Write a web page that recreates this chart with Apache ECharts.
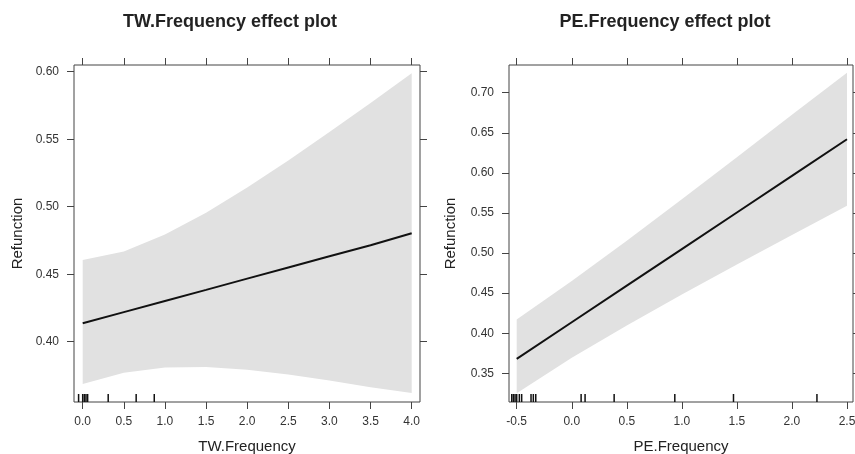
<!DOCTYPE html>
<html>
<head>
<meta charset="utf-8">
<script src="https://cdn.jsdelivr.net/npm/echarts@6/dist/echarts.min.js"></script>
<style>
html,body{margin:0;padding:0;background:#fff;}
#chart{width:855px;height:454px;}
</style>
</head>
<body>
<div id="chart"></div>
<script>
// ---- data ----
const titles = ['TW.Frequency effect plot', 'PE.Frequency effect plot'];
const xNames = ['TW.Frequency', 'PE.Frequency'];
const yName = 'Refunction';

// TW.Frequency panel
const twX     = [0, 0.5, 1, 1.5, 2, 2.5, 3, 3.5, 4];
const twFit   = [0.4136, 0.4219, 0.4302, 0.4384, 0.4467, 0.4550, 0.4633, 0.4715, 0.4803];
const twUpper = [0.4605, 0.4669, 0.4794, 0.4956, 0.5142, 0.5343, 0.5553, 0.5768, 0.5988];
const twLower = [0.3687, 0.3769, 0.3809, 0.3812, 0.3792, 0.3757, 0.3713, 0.3662, 0.3620];
const twRug   = [-0.05, 0.0, 0.02, 0.04, 0.06, 0.31, 0.65, 0.87];
const twXTicks = [0, 0.5, 1, 1.5, 2, 2.5, 3, 3.5, 4];
const twYTicks = [0.40, 0.45, 0.50, 0.55, 0.60];
const twXRange = [-0.1058, 4.101];
const twYRange = [0.3553, 0.605];

// PE.Frequency panel
const peX     = [-0.5, 0, 0.5, 1, 1.5, 2, 2.5];
const peFit   = [0.368, 0.4137, 0.4593, 0.505, 0.5506, 0.5963, 0.642];
const peUpper = [0.417, 0.4653, 0.5155, 0.5672, 0.6196, 0.6724, 0.725];
const peLower = [0.325, 0.3693, 0.4095, 0.4482, 0.4856, 0.5224, 0.559];
const peRug   = [-0.545, -0.53, -0.515, -0.5, -0.476, -0.455, -0.37, -0.349, -0.327, 0.085, 0.121, 0.385, 0.936, 1.469, 2.227];
const peXTicks = [-0.5, 0, 0.5, 1, 1.5, 2, 2.5];
const peYTicks = [0.35, 0.40, 0.45, 0.50, 0.55, 0.60, 0.65, 0.70];
const peXRange = [-0.570, 2.5545];
const peYRange = [0.3142, 0.7346];

// ---- styling ----
const FONT = 'Liberation Sans, Arial, Helvetica, sans-serif';
const AX = '#444';
const TXT = '#333';
const BAND = '#e1e1e1';

const chart = echarts.init(document.getElementById('chart'), null, {renderer: 'canvas'});

function panelAxes(gi, xr, yr, xt, yt, xname, yGap) {
  const tickStyle = {color: AX, width: 1};
  const noLine = {show: false, onZero: false};
  const xs = [
    {
      gridIndex: gi, type: 'value', min: xr[0], max: xr[1], position: 'bottom',
      axisLine: noLine, splitLine: {show: false},
      axisTick: {show: true, customValues: xt, length: 7, lineStyle: tickStyle},
      axisLabel: {customValues: xt, formatter: v => v.toFixed(1), margin: 14,
                  fontSize: 12, color: TXT, fontFamily: FONT},
      name: xname, nameLocation: 'middle', nameGap: 37,
      nameTextStyle: {fontSize: 15, color: '#222', fontFamily: FONT}
    },
    {
      gridIndex: gi, type: 'value', min: xr[0], max: xr[1], position: 'top',
      axisLine: noLine, splitLine: {show: false},
      axisTick: {show: true, customValues: xt, length: 7, lineStyle: tickStyle},
      axisLabel: {show: false}
    }
  ];
  const ys = [
    {
      gridIndex: gi, type: 'value', min: yr[0], max: yr[1], position: 'left',
      axisLine: noLine, splitLine: {show: false},
      axisTick: {show: true, customValues: yt, length: 7, lineStyle: tickStyle},
      axisLabel: {customValues: yt, formatter: v => v.toFixed(2), margin: 15,
                  fontSize: 12, color: TXT, fontFamily: FONT},
      name: yName, nameLocation: 'middle', nameGap: yGap, nameRotate: 90,
      nameTextStyle: {fontSize: 15, color: '#222', fontFamily: FONT}
    },
    {
      gridIndex: gi, type: 'value', min: yr[0], max: yr[1], position: 'right',
      axisLine: noLine, splitLine: {show: false},
      axisTick: {show: true, customValues: yt, length: 7, lineStyle: tickStyle},
      axisLabel: {show: false}
    }
  ];
  return {xs, ys};
}

const p0 = panelAxes(0, twXRange, twYRange, twXTicks, twYTicks, xNames[0], 49);
const p1 = panelAxes(1, peXRange, peYRange, peXTicks, peYTicks, xNames[1], 51);

function panelSeries(xi, yi, xs, fit, up, lo, rug, yMin) {
  return [
    {
      // confidence band: polygon through upper values then lower values (reversed)
      type: 'custom', xAxisIndex: xi, yAxisIndex: yi, silent: true,
      data: [[xs[0], lo[0]]],
      encode: {x: 0, y: 1},
      renderItem: function (params, api) {
        const pts = [];
        for (let i = 0; i < xs.length; i++) pts.push(api.coord([xs[i], up[i]]));
        for (let i = xs.length - 1; i >= 0; i--) pts.push(api.coord([xs[i], lo[i]]));
        return {type: 'polygon', shape: {points: pts}, style: {fill: BAND, stroke: null}};
      },
      z: 1
    },
    {
      type: 'line', xAxisIndex: xi, yAxisIndex: yi, symbol: 'none', silent: true,
      lineStyle: {color: '#111', width: 2},
      data: xs.map((x, i) => [x, fit[i]]), z: 3
    },
    {
      type: 'custom', xAxisIndex: xi, yAxisIndex: yi, silent: true,
      data: rug.map(v => [v, yMin]),
      encode: {x: 0, y: 1},
      renderItem: function (params, api) {
        const p = api.coord([api.value(0), yMin]);
        return {
          type: 'line',
          shape: {x1: p[0], y1: p[1], x2: p[0], y2: p[1] - 8},
          style: {stroke: '#111', lineWidth: 1.5}
        };
      },
      z: 4
    }
  ];
}

const gridBase = {top: 65, height: 337, show: true, borderColor: AX, borderWidth: 1,
  backgroundColor: 'transparent', containLabel: false, outerBoundsMode: 'none'};

const option = {
  animation: false,
  backgroundColor: '#ffffff',
  textStyle: {fontFamily: FONT},
  grid: [
    Object.assign({left: 74, width: 346}, gridBase),
    Object.assign({left: 509, width: 344}, gridBase)
  ],
  xAxis: [...p0.xs, ...p1.xs],
  yAxis: [...p0.ys, ...p1.ys],
  series: [
    ...panelSeries(0, 0, twX, twFit, twUpper, twLower, twRug, twYRange[0]),
    ...panelSeries(2, 2, peX, peFit, peUpper, peLower, peRug, peYRange[0])
  ],
  graphic: [
    {type: 'text', x: 230, y: 22, style: {text: titles[0], align: 'center', verticalAlign: 'middle',
      font: 'bold 18px ' + FONT, fill: '#222'}},
    {type: 'text', x: 665, y: 22, style: {text: titles[1], align: 'center', verticalAlign: 'middle',
      font: 'bold 18px ' + FONT, fill: '#222'}}
  ]
};

chart.setOption(option);
</script>
</body>
</html>
